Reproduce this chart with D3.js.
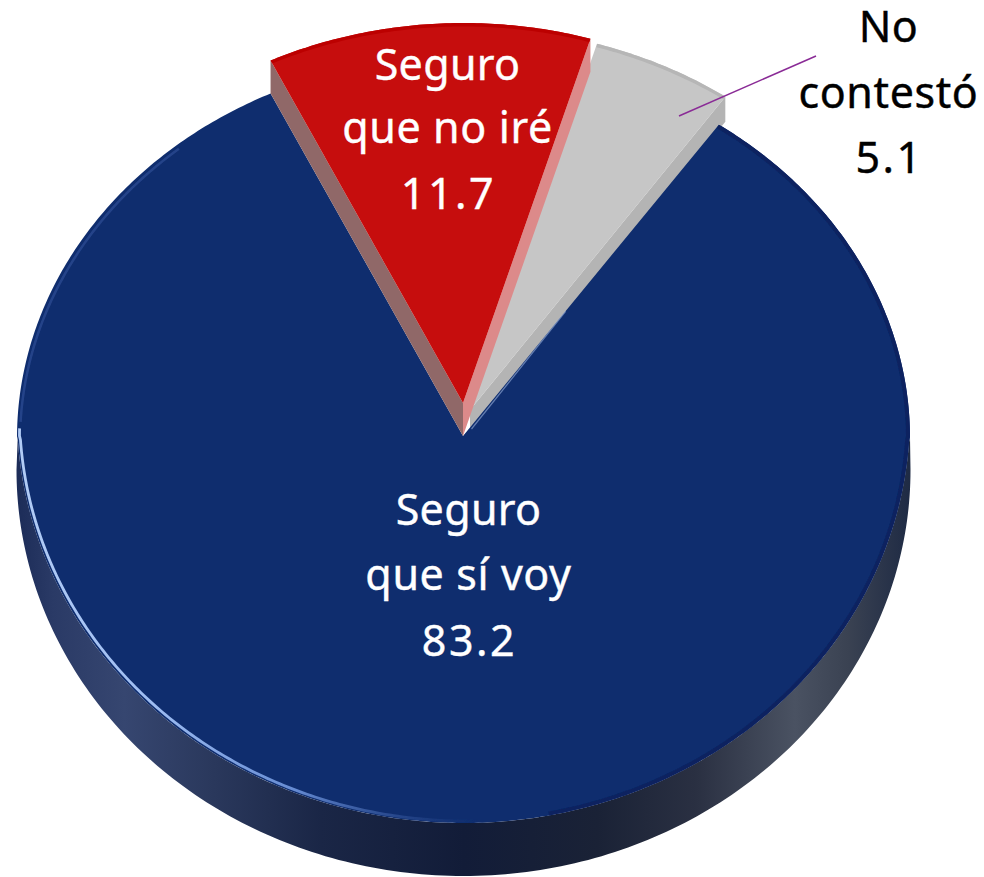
<!DOCTYPE html>
<html>
<head>
<meta charset="utf-8">
<script src="https://cdn.jsdelivr.net/npm/d3@7"></script>
<style>
html, body { margin: 0; background: #fff; }
text { font-family: "Noto Sans", sans-serif; font-size: 43px; text-anchor: middle; }
</style>
</head>
<body>
<svg id="chart" width="984" height="877"></svg>
<script>
// values in the order they go round the pie, clockwise from the red wedge
var labels = ["Seguro que no iré", "No contestó", "Seguro que sí voy"];
var values = [11.7, 5.1, 83.2];
var labelLines = [["Seguro", "que no iré"], ["No", "contestó"], ["Seguro", "que sí voy"]];
var sliceColors = ["#c60d0d", "#c6c6c6", "#0f2d6e"];

var svg = d3.select("#chart");
var defs = svg.append("defs");

var cx = 463.5, rx = 446.5;
var apexY = 436;
var farCy = 438, farRy = 382;   // back half of the disc
var nearCy = 415, nearRy = 408; // front half, a bit longer because of the tilt
var nearStart = Math.asin((farCy - nearCy) / nearRy);

var startDeg = -25.6;
var pie = d3.pie().sort(null)
    .startAngle(startDeg * Math.PI / 180)
    .endAngle((startDeg + 360) * Math.PI / 180);
var arcs = pie(values);

function rim(t, dx, dy) {
    var c = Math.cos(t);
    if (c >= 0) return [cx + rx * Math.sin(t) + dx, farCy - farRy * c + dy];
    // t runs 90..270 degrees in the front half, s is the ellipse angle there
    var tt = (t % (2 * Math.PI) + 2 * Math.PI) % (2 * Math.PI);
    var s = nearStart + (tt - Math.PI / 2) / Math.PI * (Math.PI - 2 * nearStart);
    return [cx + rx * Math.cos(s) + dx, nearCy + nearRy * Math.sin(s) + dy];
}

function rimPoints(a0, a1, dx, dy) {
    var n = Math.max(2, Math.ceil((a1 - a0) / 0.01));
    return d3.range(n + 1).map(function (i) {
        return rim(a0 + (a1 - a0) * i / n, dx, dy);
    });
}

var line = d3.line();

function wedge(d, dx, dy, apex) {
    return line([apex].concat(rimPoints(d.startAngle, d.endAngle, dx, dy))) + "Z";
}

function wall(a, dx, dy, apex, depth) {
    var p = rim(a, dx, dy);
    return line([apex, p, [p[0], p[1] + depth], [apex[0], apex[1] + depth]]) + "Z";
}

// side of the blue disc
var sideGrad = defs.append("linearGradient").attr("id", "side")
    .attr("gradientUnits", "userSpaceOnUse")
    .attr("x1", 17).attr("x2", 911).attr("y1", 0).attr("y2", 0);
[[0, "#1c2c58"], [0.04, "#2a3a66"], [0.12, "#364670"], [0.22, "#2a385c"], [0.34, "#1a2646"],
 [0.5, "#121c38"], [0.65, "#1a2236"], [0.76, "#2a3042"], [0.87, "#4a5262"], [0.93, "#3a4252"], [1, "#1e2a44"]]
    .forEach(function (s) {
        sideGrad.append("stop").attr("offset", s[0]).attr("stop-color", s[1]);
    });

var shineGrad = defs.append("linearGradient").attr("id", "shine")
    .attr("gradientUnits", "userSpaceOnUse")
    .attr("x1", 17).attr("x2", 480).attr("y1", 0).attr("y2", 0);
[[0, "#b2ccf6", 1], [0.3, "#9dbcf2", 1], [0.6, "#7096de", 0.9], [1, "#2a4c98", 0]]
    .forEach(function (s) {
        shineGrad.append("stop").attr("offset", s[0]).attr("stop-color", s[1]).attr("stop-opacity", s[2]);
    });

defs.append("filter").attr("id", "soft").append("feGaussianBlur").attr("stdDeviation", 0.7);

var outer = d3.range(0, 201).map(function (i) {
    var s = Math.PI * i / 200;
    return [cx + 447 * Math.cos(s), 470 + 406 * Math.sin(s)];
});
var inner = rimPoints(Math.PI / 2, 3 * Math.PI / 2, 0, 0).reverse();
svg.append("path")
    .attr("d", line(outer.concat(inner)) + "Z")
    .attr("fill", "url(#side)");

// gray wedge, pulled out from the centre
var gray = arcs[1];
var grayDx = 6.5, grayDy = -28;
var grayApex = [cx + 6.5, apexY - 26];
svg.append("path")
    .attr("d", wall(gray.endAngle, grayDx, grayDy, grayApex, 25))
    .attr("fill", "#b4b4b4");
svg.append("path")
    .attr("d", wedge(gray, grayDx, grayDy, grayApex))
    .attr("fill", sliceColors[1]);
defs.append("clipPath").attr("id", "grayClip").append("path")
    .attr("d", wedge(gray, grayDx, grayDy, grayApex));
svg.append("g").attr("clip-path", "url(#grayClip)").append("path")
    .attr("d", line(rimPoints(gray.startAngle, gray.endAngle, grayDx, grayDy + 1)))
    .attr("fill", "none").attr("stroke", "#b6b6b6").attr("stroke-width", 5)
    .attr("filter", "url(#soft)");

// blue wedge, the shading stays inside its outline
var blue = arcs[2];
var blueShape = wedge(blue, 0, 0, [cx - 0.5, apexY]);
svg.append("path")
    .attr("d", blueShape)
    .attr("fill", sliceColors[2]);
defs.append("clipPath").attr("id", "blueClip").append("path").attr("d", blueShape);
var blueShade = svg.append("g").attr("clip-path", "url(#blueClip)");
// darker band inside the right side of the rim
blueShade.append("path")
    .attr("d", line(rimPoints(blue.startAngle, Math.PI - 0.2, 0, 0)))
    .attr("fill", "none").attr("stroke", "#0a2360").attr("stroke-width", 8)
    .attr("filter", "url(#soft)");
// paler band on the upper left
blueShade.append("path")
    .attr("d", line(rimPoints(Math.PI * 3 / 2 + 0.05, Math.PI * 2 - 0.7, 0, 0).map(function (p) {
        return [p[0] + 3, p[1] + 3];
    })))
    .attr("fill", "none").attr("stroke", "#2c4a90").attr("stroke-width", 2.5).attr("opacity", 0.8)
    .attr("filter", "url(#soft)");
// bright rim on the lower left
blueShade.append("path")
    .attr("d", line(rimPoints(Math.PI - 0.05, Math.PI * 3 / 2 + 0.02, 0, 0).map(function (p) {
        return [p[0] + 2.5, p[1] - 2];
    })))
    .attr("fill", "none").attr("stroke", "url(#shine)").attr("stroke-width", 2.8)
    .attr("filter", "url(#soft)");
var edge = rim(blue.startAngle, 0, 0);
svg.append("line")
    .attr("x1", cx + 8).attr("y1", apexY - 7)
    .attr("x2", cx + (edge[0] - cx) * 0.4).attr("y2", apexY + (edge[1] - apexY) * 0.4)
    .attr("stroke", "#9db4de").attr("stroke-width", 1.2).attr("opacity", 0.6);

// red wedge, pulled out further
var red = arcs[0];
var redDx = 0, redDy = -33;
var redApex = [cx - 0.5, apexY - 33];
svg.append("path")
    .attr("d", wall(red.endAngle, redDx, redDy, redApex, 33))
    .attr("fill", "#dc8a8a");
svg.append("path")
    .attr("d", wall(red.startAngle, redDx, redDy, redApex, 33))
    .attr("fill", "#906868");
svg.append("path")
    .attr("d", wedge(red, redDx, redDy, redApex))
    .attr("fill", sliceColors[0]);
defs.append("clipPath").attr("id", "redClip").append("path")
    .attr("d", wedge(red, redDx, redDy, redApex));
svg.append("g").attr("clip-path", "url(#redClip)").append("path")
    .attr("d", line(rimPoints(red.startAngle, red.endAngle, redDx, redDy + 1)))
    .attr("fill", "none").attr("stroke", "#bc0000").attr("stroke-width", 5)
    .attr("filter", "url(#soft)");

// leader of the small slice
svg.append("line")
    .attr("x1", 679).attr("y1", 116).attr("x2", 816).attr("y2", 56)
    .attr("stroke", "#8a2b96").attr("stroke-width", 1.5);

// text
var labelPos = [
    { x: 447, y: [80, 143, 209], color: "#fff" },
    { x: 888, y: [42, 108, 173], color: "#000" },
    { x: 468, y: [525, 590, 656], color: "#fff" }
];
var lineSpacing = ["0.3px", "0.6px", "2.5px"];
var lineShift = [0.5, 0.5, 1.5];
values.forEach(function (v, i) {
    var lines = labelLines[i].concat([v.toFixed(1)]);
    lines.forEach(function (t, j) {
        svg.append("text")
            .attr("x", labelPos[i].x + lineShift[j])
            .attr("y", labelPos[i].y[j])
            .attr("fill", labelPos[i].color)
            .attr("stroke", labelPos[i].color)
            .attr("stroke-width", 0.4)
            .style("letter-spacing", lineSpacing[j])
            .text(t);
    });
});
</script>
</body>
</html>
